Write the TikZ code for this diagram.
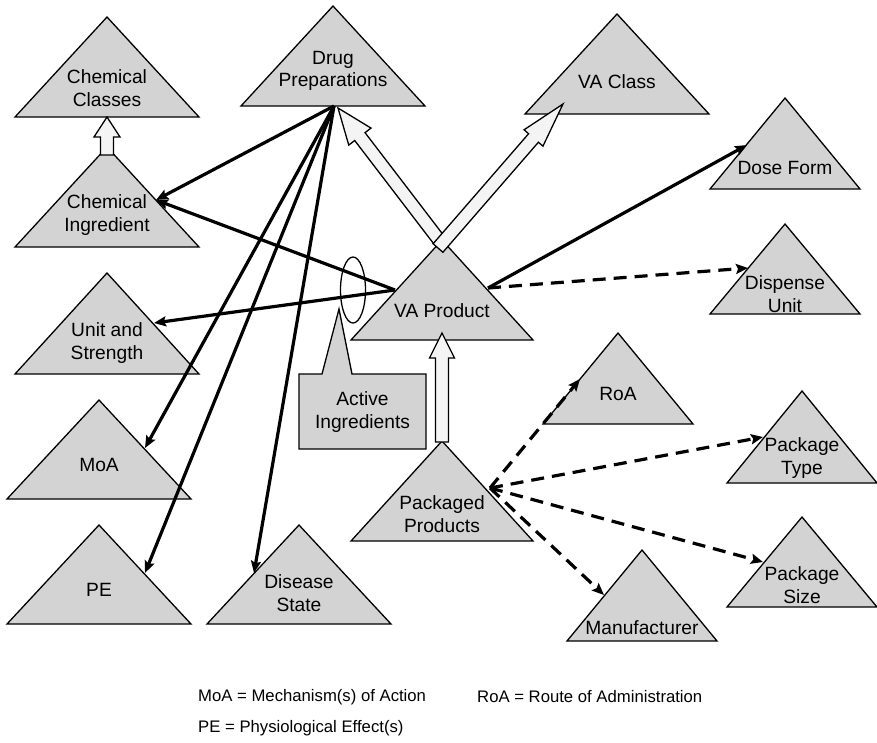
\documentclass[tikz,border=0pt]{standalone}
\usepackage{fontspec}
\setmainfont{Liberation Sans}
\usetikzlibrary{calc,arrows.meta,shapes.geometric}
\definecolor{trigray}{RGB}{211,211,211}
\definecolor{fatfill}{RGB}{244,244,244}
\newcommand\tri[5]{%
  \coordinate (#1-top) at (#2,#3);
  \coordinate (#1-bl) at ({#2-#5},#4);
  \coordinate (#1-br) at ({#2+#5},#4);
  \draw[tri] (#1-top) -- (#1-br) -- (#1-bl) -- cycle;}
% head length, head half width, from, to
\newcommand\fatarrow[4]{%
  \coordinate (fa-h) at ($(#4)!#1!(#3)$);
  \draw[fat] ($(#3)!6.5pt!90:(#4)$) -- ($(fa-h)!6.5pt!90:(#4)$) -- ($(fa-h)!#2!90:(#4)$) -- (#4)
    -- ($(fa-h)!#2!-90:(#4)$) -- ($(fa-h)!6.5pt!-90:(#4)$) -- ($(#3)!6.5pt!-90:(#4)$) -- cycle;}
\begin{document}
\begin{tikzpicture}[x=1pt,y=-1pt,
  tri/.style={draw=black,line width=1.3pt,fill=trigray,line join=miter},
  fat/.style={draw=black,line width=1.3pt,fill=fatfill,line join=miter},
  lbl/.style={align=center,font=\fontsize{19.2}{22.5}\selectfont,inner sep=0pt},
  legend/.style={anchor=west,font=\fontsize{16.7}{20}\selectfont,inner sep=0pt},
  rel/.style={line width=3.2pt,-{Stealth[length=12pt,width=10pt,inset=2pt]}},
  opt/.style={rel,dash pattern=on 13pt off 8pt}]
\useasboundingbox (0,0) rectangle (877,742);

% triangles
\tri{chemcls}{107}{17}{117}{92}
\tri{drugprep}{333}{6}{106}{92}
\tri{chemingr}{107}{147}{247}{92}
\tri{vaclass}{617}{14}{114}{92}
\tri{doseform}{785}{98}{189}{75}
\tri{dispunit}{785}{224}{314}{75}
\tri{unitstr}{107}{273}{374}{92}
\tri{moa}{99}{400}{499}{92}
\tri{pe}{99}{525}{624}{92}
\tri{disease}{299}{525}{624}{92}
\tri{vaprod}{442}{240}{340}{91}
\tri{pkgprod}{442}{441}{541}{91}
\tri{roa}{618}{333}{424}{75}
\tri{pkgtype}{802}{391}{483}{75}
\tri{pkgsize}{802}{517}{607}{75}
\tri{manuf}{642}{550}{641}{75}

% labels
\node[lbl] (chemclsL) at (107,88) {Chemical\\Classes};
\node[lbl] (drugprepL) at (333,71) {Drug\\Preparations};
\node[lbl] (chemingrL) at (107,215) {Chemical\\Ingredient};
\node[lbl] (vaclassL) at (617,82) {VA Class};
\node[lbl] (doseformL) at (785,168) {Dose Form};
\node[lbl] (dispunitL) at (785,294) {Dispense\\Unit};
\node[lbl] (unitstrL) at (107,343) {Unit and\\Strength};
\node[lbl] (moaL) at (99,465) {MoA};
\node[lbl] (peL) at (99,590) {PE};
\node[lbl] (diseaseL) at (299,593) {Disease\\State};
\node[lbl] (vaprodL) at (442,311) {VA Product};
\node[lbl] (pkgprodL) at (442,514) {Packaged\\Products};
\node[lbl] (roaL) at (618,394) {RoA};
\node[lbl] (pkgtypeL) at (802,458) {Package\\Type};
\node[lbl] (pkgsizeL) at (802,585) {Package\\Size};
\node[lbl] (manufL) at (642,628) {Manufacturer};

% callout
\node[draw=black,line width=1.3pt,ellipse,minimum width=25pt,minimum height=66pt,inner sep=0pt] (actgrp) at (353,290) {};
\draw[tri] (299,374) -- (322,374) -- (339,309) -- (352,374) -- (426,374) -- (426,449) -- (299,449) -- cycle;
\node[lbl] (actingr) at (362.5,412) {Active\\Ingredients};

% connector end points
\coordinate (drugprep-out) at (334,106);
\coordinate (chemingr-in) at (156,200);
\coordinate (moa-in) at (145,448);
\coordinate (pe-in) at (145,573);
\coordinate (disease-in) at (254,573);
\coordinate (vaprod-outl) at (395,290);
\coordinate (unitstr-in) at (154,323);
\coordinate (vaprod-outr) at (488,288);
\coordinate (doseform-in) at (747,145);
\coordinate (dispunit-in) at (748,268);
\coordinate (pkgprod-out) at (490,488);
\coordinate (roa-in) at (580,379);
\coordinate (pkgtype-in) at (763,437);
\coordinate (pkgsize-in) at (763,562);
\coordinate (manuf-in) at (604,595);

\draw[rel] (drugprep-out) -- (chemingr-in);
\draw[rel] (drugprep-out) -- (moa-in);
\draw[rel] (drugprep-out) -- (pe-in);
\draw[rel] (drugprep-out) -- (disease-in);
\draw[rel] (vaprod-outl) -- (chemingr-in);
\draw[rel] (vaprod-outl) -- (unitstr-in);
\draw[rel] (vaprod-outr) -- (doseform-in);
\draw[opt] (vaprod-outr) -- (dispunit-in);
\draw[opt] (pkgprod-out) -- (roa-in);
\draw[opt] (pkgprod-out) -- (pkgtype-in);
\draw[opt] (pkgprod-out) -- (pkgsize-in);
\draw[opt] (pkgprod-out) -- (manuf-in);

% hollow (subsumption) arrows
\coordinate (chemingr-up) at (107,155);
\coordinate (chemcls-in) at (107,117);
\coordinate (pkgprod-up) at (442,442);
\coordinate (vaprod-in) at (442,333);
\coordinate (vaprod-upl) at (439,240);
\coordinate (drugprep-in) at (338,108);
\coordinate (vaprod-upr) at (438,248);
\coordinate (vaclass-in) at (563,104);
\fatarrow{20pt}{13pt}{chemingr-up}{chemcls-in}
\fatarrow{25pt}{12.5pt}{pkgprod-up}{vaprod-in}
\fatarrow{36pt}{14pt}{vaprod-upl}{drugprep-in}
\fatarrow{45pt}{12.5pt}{vaprod-upr}{vaclass-in}

% legend
\node[legend] (legmoa) at (198,697) {MoA = Mechanism(s) of Action};
\node[legend] (legroa) at (477,697) {RoA = Route of Administration};
\node[legend] (legpe) at (198,728) {PE = Physiological Effect(s)};
\end{tikzpicture}
\end{document}
